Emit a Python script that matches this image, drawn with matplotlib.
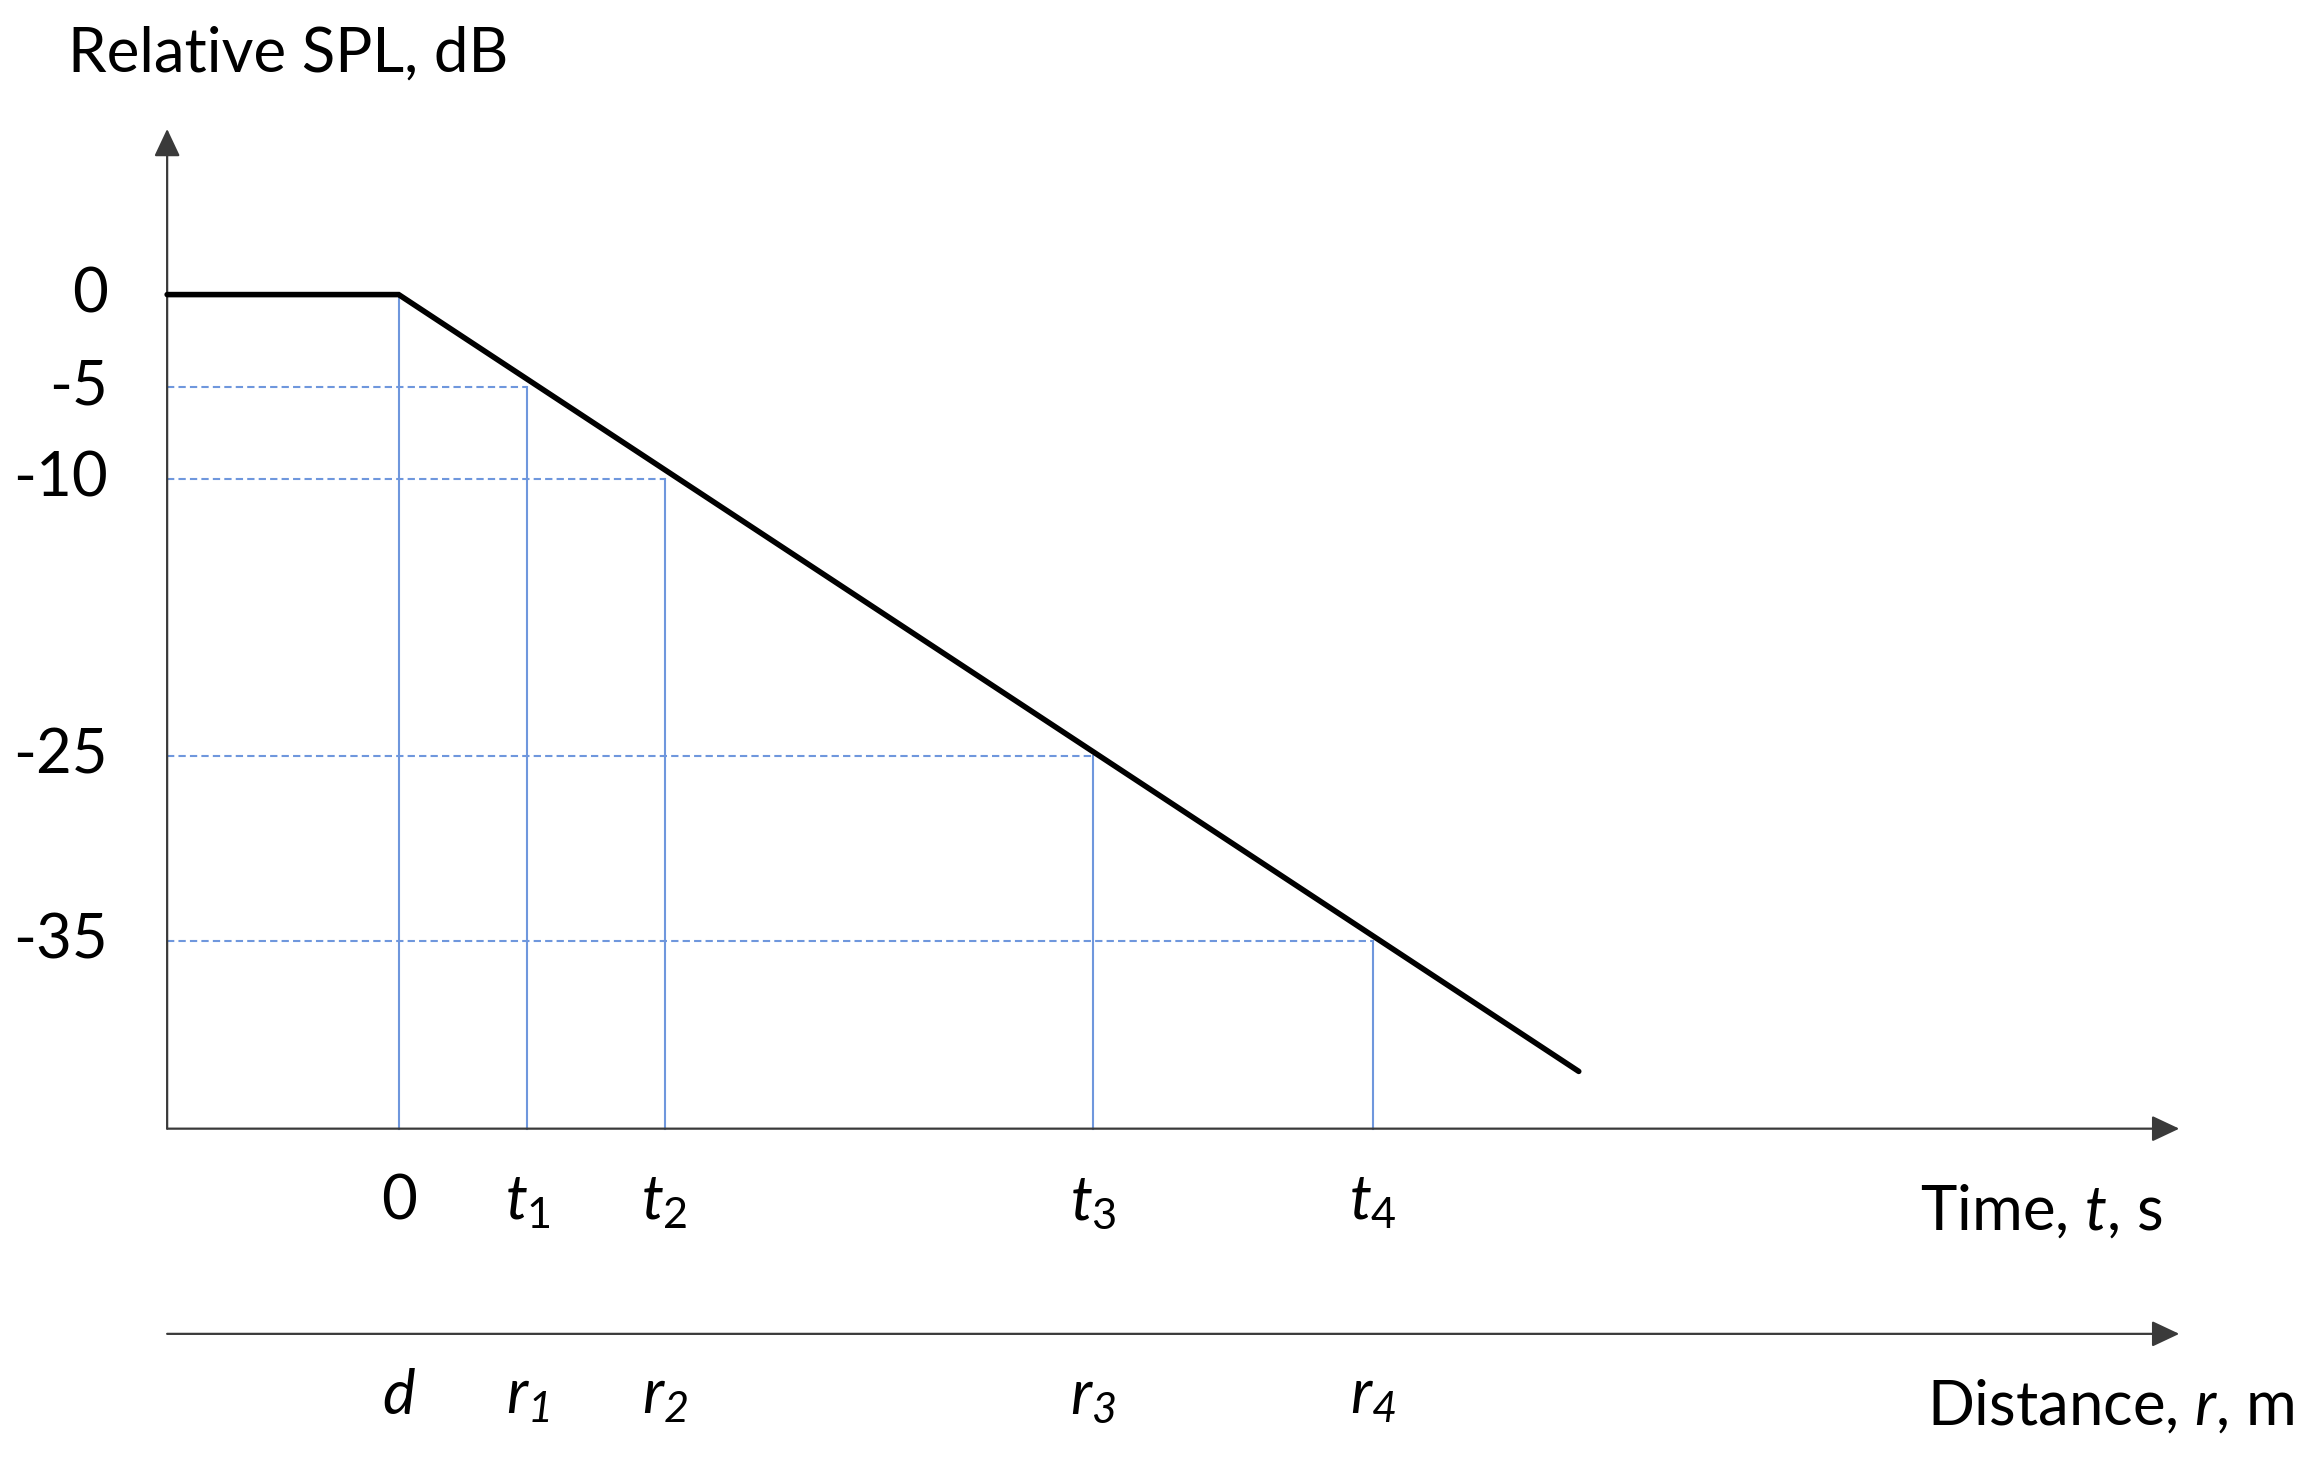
import matplotlib
matplotlib.use("Agg")
import matplotlib.pyplot as plt

#=========== Data ================
# SPL levels marked on the vertical axis (dB)
levels = [0, -5, -10, -25, -35]
level_labels = ["0", "-5", "-10", "-25", "-35"]

# time positions where the decay line crosses each level
times = [0, 4.6, 9.5, 24.8, 34.8]
time_labels = ["0", r"$t_{\mathrm{1}}$", r"$t_{\mathrm{2}}$", r"$t_{\mathrm{3}}$", r"$t_{\mathrm{4}}$"]
dist_labels = [r"$d$", r"$r_{\mathsf{1}}$", r"$r_{\mathsf{2}}$", r"$r_{\mathsf{3}}$", r"$r_{\mathsf{4}}$"]

# decay curve: flat, then linear drop
curve_t = [-8.27, 0, 42.15]
curve_db = [0, 0, -42.06]

#=========== Style ================
FONT = "Lato"
plt.rcParams["font.family"] = [FONT, "DejaVu Sans"]
plt.rcParams["mathtext.fontset"] = "custom"
plt.rcParams["mathtext.rm"] = FONT
plt.rcParams["mathtext.it"] = FONT + ":italic"
plt.rcParams["mathtext.sf"] = FONT + ":italic"  # italic digits in subscripts

blue = "#6f97dd"
axis_col = "#3a3a3a"
fs = 44.5

fig = plt.figure(figsize=(22.98, 14.60), dpi=100)
ax = fig.add_axes([0, 0, 1, 1])
ax.set_xlim(-14.24, 67.84)
ax.set_ylim(-63.10, 15.95)
ax.axis("off")

x0 = -8.27        # vertical axis position
y_time = -45.16   # time axis
y_dist = -56.27   # distance axis
arrow = dict(arrowstyle="-|>,head_length=0.85,head_width=0.4", color=axis_col,
             lw=1.6, shrinkA=0, shrinkB=0, mutation_scale=20)

# axes with arrows
ax.annotate("", xy=(x0, 8.97), xytext=(x0, y_time), arrowprops=arrow)
ax.annotate("", xy=(63.6, y_time), xytext=(x0, y_time), arrowprops=arrow)
ax.annotate("", xy=(63.6, y_dist), xytext=(x0, y_dist), arrowprops=arrow)

# guide lines
for t, lv in zip(times, levels):
    ax.plot([t, t], [lv, y_time], color=blue, lw=1.5, zorder=2)
    if lv != 0:
        ax.plot([x0, t], [lv, lv], color=blue, lw=1.5, dashes=(3.5, 2), zorder=2)

# decay curve
ax.plot(curve_t, curve_db, color="black", lw=4, solid_capstyle="round",
        solid_joinstyle="miter", zorder=3)

# labels
for lv, lab in zip(levels, level_labels):
    ax.text(-10.4, lv, lab, ha="right", va="center", fontsize=fs)
for t, lab in zip(times, time_labels):
    ax.text(t, -50.1, lab, ha="center", va="baseline", fontsize=fs)
for t, lab in zip(times, dist_labels):
    ax.text(t, -60.6, lab, ha="center", va="baseline", fontsize=fs)

ax.text(-11.8, 12.06, "Relative SPL, dB", ha="left", va="baseline", fontsize=fs)
ax.text(63.0, -50.6, "Time, $t$, s", ha="right", va="baseline", fontsize=fs)
ax.text(67.7, -61.2, "Distance, $r$, m", ha="right", va="baseline", fontsize=fs)

fig.savefig("out.png", dpi=100, facecolor="white")
